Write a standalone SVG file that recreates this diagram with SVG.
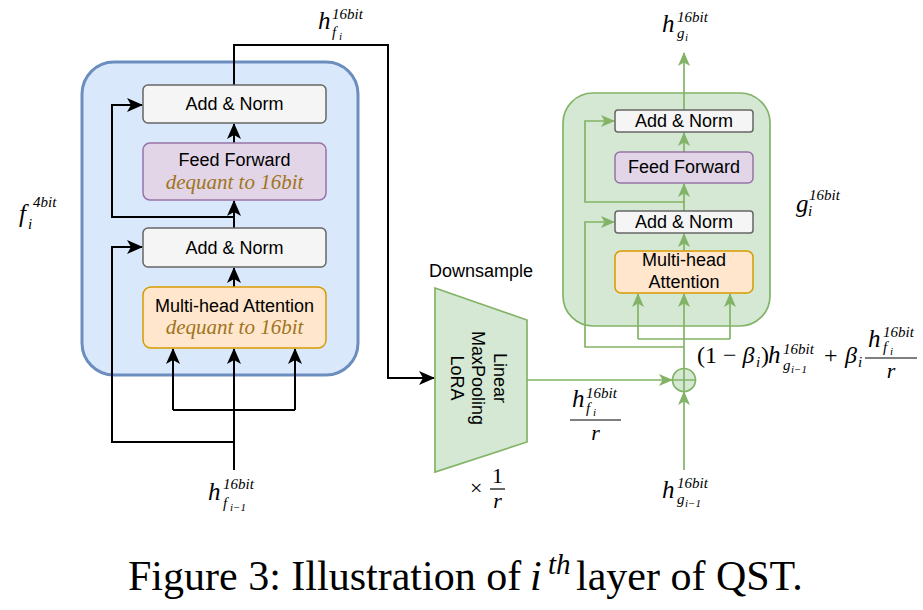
<svg xmlns="http://www.w3.org/2000/svg" width="923" height="610" viewBox="0 0 923 610">
<style>
.box{stroke-width:1.5}
.gray{fill:#f5f5f5;stroke:#666666}
.purple{fill:#e1d5e7;stroke:#9673a6}
.orange{fill:#ffe6cc;stroke:#d79b00}
.lbl{font-family:"Liberation Sans",Arial,sans-serif;font-size:18px;fill:#000;text-anchor:middle}
.deq{font-family:"Liberation Serif","Times New Roman",serif;font-style:italic;font-size:21px;fill:#a0741c;text-anchor:middle}
.m{font-family:"Liberation Serif","Times New Roman",serif;font-style:italic;fill:#000}
.mr{font-family:"Liberation Serif","Times New Roman",serif;fill:#000}
.bk{fill:none;stroke:#000;stroke-width:2}
.gr{fill:none;stroke:#82b366;stroke-width:1.7}
</style>
<defs>
<marker id="ab" viewBox="0 0 16 16" refX="15" refY="8" markerWidth="16" markerHeight="16" markerUnits="userSpaceOnUse" orient="auto">
<path d="M0,1 L16,8 L0,15 L4,8 z" fill="#000"/>
</marker>
<marker id="ag" viewBox="0 0 14 14" refX="13" refY="7" markerWidth="14" markerHeight="14" markerUnits="userSpaceOnUse" orient="auto">
<path d="M0,1 L14,7 L0,13 L3.5,7 z" fill="#82b366"/>
</marker>
</defs>

<g id="container-left">
<rect x="82" y="62" width="276" height="313" rx="32" fill="#dae8fc" stroke="#6c8ebf" stroke-width="3"/>
</g>
<g id="container-right">
<rect x="563" y="93" width="207" height="233" rx="30" fill="#d5e8d4" stroke="#82b366" stroke-width="1.7"/>
</g>

<g id="connectors">
<path class="bk" d="M234,85 V45 H388 V378 H434" marker-end="url(#ab)"/>
<path class="bk" d="M234,470 V349" marker-end="url(#ab)"/>
<path class="bk" d="M173,410 H295"/>
<path class="bk" d="M173,410 V349" marker-end="url(#ab)"/>
<path class="bk" d="M295,410 V349" marker-end="url(#ab)"/>
<path class="bk" d="M234,442 H112 V247 H142" marker-end="url(#ab)"/>
<path class="bk" d="M234,287 V268" marker-end="url(#ab)"/>
<path class="bk" d="M234,228 V201" marker-end="url(#ab)"/>
<path class="bk" d="M234,217 H112 V105 H142" marker-end="url(#ab)"/>
<path class="bk" d="M234,143 V124" marker-end="url(#ab)"/>

<path class="gr" d="M527,380 H672" marker-end="url(#ag)"/>
<path class="gr" d="M684,470 V392" marker-end="url(#ag)"/>
<path class="gr" d="M684,369 V294" marker-end="url(#ag)"/>
<path class="gr" d="M638,339 H730"/>
<path class="gr" d="M638,339 V294" marker-end="url(#ag)"/>
<path class="gr" d="M730,339 V294" marker-end="url(#ag)"/>
<path class="gr" d="M684,347 H585 V222 H614" marker-end="url(#ag)"/>
<path class="gr" d="M684,251 V234" marker-end="url(#ag)"/>
<path class="gr" d="M684,211 V184" marker-end="url(#ag)"/>
<path class="gr" d="M684,202 H585 V121 H614" marker-end="url(#ag)"/>
<path class="gr" d="M684,152 V133" marker-end="url(#ag)"/>
<path class="gr" d="M684,110 V53" marker-end="url(#ag)"/>
</g>

<g id="left-addnorm-top">
<rect class="box gray" x="143" y="85" width="183" height="38" rx="5"/>
<text class="lbl" x="234.5" y="110">Add &amp; Norm</text>
</g>
<g id="left-feedforward">
<rect class="box purple" x="143" y="143" width="183" height="57" rx="7"/>
<text class="lbl" x="234.5" y="166">Feed Forward</text>
<text class="deq" x="234.5" y="189">dequant to 16bit</text>
</g>
<g id="left-addnorm-bottom">
<rect class="box gray" x="143" y="228" width="183" height="39" rx="5"/>
<text class="lbl" x="234.5" y="254">Add &amp; Norm</text>
</g>
<g id="left-attention">
<rect class="box orange" x="143" y="287" width="183" height="61" rx="8"/>
<text class="lbl" x="234.5" y="312">Multi-head Attention</text>
<text class="deq" x="234.5" y="334">dequant to 16bit</text>
</g>

<g id="downsample">
<path d="M435,288 L527,320 L527,442 L435,472 Z" fill="#d5e8d4" stroke="#82b366" stroke-width="1.7"/>
<text class="lbl" x="481" y="277">Downsample</text>
<text class="lbl" transform="translate(494,378) rotate(90)">Linear</text>
<text class="lbl" transform="translate(472,378) rotate(90)">MaxPooling</text>
<text class="lbl" transform="translate(451,378) rotate(90)">LoRA</text>
</g>

<g id="sum">
<circle cx="684" cy="380" r="11.5" fill="#d5e8d4" stroke="#82b366" stroke-width="1.7"/>
<path d="M672.5,380 H695.5 M684,368.5 V391.5" stroke="#82b366" stroke-width="1.7" fill="none"/>
</g>

<g id="right-addnorm-top">
<rect class="box gray" x="615" y="110" width="138" height="22" rx="3"/>
<text class="lbl" x="684" y="127">Add &amp; Norm</text>
</g>
<g id="right-feedforward">
<rect class="box purple" x="615" y="152" width="138" height="31" rx="5"/>
<text class="lbl" x="684" y="173">Feed Forward</text>
</g>
<g id="right-addnorm-bottom">
<rect class="box gray" x="615" y="211" width="138" height="22" rx="3"/>
<text class="lbl" x="684" y="228">Add &amp; Norm</text>
</g>
<g id="right-attention">
<rect class="box orange" x="615" y="251" width="138" height="42" rx="6"/>
<text class="lbl" x="684" y="266">Multi-head</text>
<text class="lbl" x="684" y="288">Attention</text>
</g>

<g id="labels">
<text class="m" x="318" y="29" font-size="25">h</text>
<text class="m" x="332" y="19" font-size="15">16bit</text>
<text class="m" x="332" y="37" font-size="15">f</text>
<text class="m" x="339" y="40" font-size="11">i</text>

<text class="m" x="19" y="222" font-size="25">f</text>
<text class="m" x="33" y="207" font-size="15">4bit</text>
<text class="m" x="28" y="229" font-size="15">i</text>

<text class="m" x="208" y="500" font-size="25">h</text>
<text class="m" x="223" y="489" font-size="15">16bit</text>
<text class="m" x="223" y="508" font-size="15">f</text>
<text class="m" x="230" y="511" font-size="11">i<tspan class="mr">−1</tspan></text>

<text class="m" x="796" y="212" font-size="25">g</text>
<text class="m" x="809" y="200" font-size="15">16bit</text>
<text class="m" x="808" y="216" font-size="15">i</text>

<text class="m" x="662" y="32" font-size="25">h</text>
<text class="m" x="677" y="22" font-size="15">16bit</text>
<text class="m" x="677" y="38" font-size="15">g</text>
<text class="m" x="685" y="41" font-size="11">i</text>

<text class="m" x="662" y="498" font-size="25">h</text>
<text class="m" x="677" y="488" font-size="15">16bit</text>
<text class="m" x="677" y="504" font-size="15">g</text>
<text class="m" x="685" y="507" font-size="11">i<tspan class="mr">−1</tspan></text>

<text class="m" x="572" y="407" font-size="25">h</text>
<text class="m" x="586" y="398" font-size="15">16bit</text>
<text class="m" x="586" y="413" font-size="15">f</text>
<text class="m" x="593" y="416" font-size="11">i</text>
<line x1="570" y1="420" x2="621" y2="420" stroke="#000" stroke-width="1.2"/>
<text class="m" x="595.5" y="440" font-size="22" text-anchor="middle">r</text>

<text class="mr" x="470" y="495" font-size="22">×</text>
<text class="mr" x="497.5" y="483" font-size="22" text-anchor="middle">1</text>
<line x1="490" y1="489" x2="505" y2="489" stroke="#000" stroke-width="1.2"/>
<text class="m" x="497.5" y="508" font-size="22" text-anchor="middle">r</text>

<text class="mr" x="697" y="363" font-size="24">(1 − <tspan class="m">β</tspan></text>
<text class="m" x="756" y="367" font-size="15">i</text>
<text class="mr" x="761" y="363" font-size="24">)</text>
<text class="m" x="768" y="363" font-size="25">h</text>
<text class="m" x="783" y="354" font-size="15">16bit</text>
<text class="m" x="783" y="370" font-size="15">g</text>
<text class="m" x="791" y="373" font-size="11">i<tspan class="mr">−1</tspan></text>
<text class="mr" x="824" y="363" font-size="24">+</text>
<text class="m" x="845" y="363" font-size="24">β</text>
<text class="m" x="858" y="367" font-size="15">i</text>
<text class="m" x="868" y="347" font-size="25">h</text>
<text class="m" x="883" y="337" font-size="15">16bit</text>
<text class="m" x="883" y="352" font-size="15">f</text>
<text class="m" x="890" y="355" font-size="11">i</text>
<line x1="865" y1="358" x2="917" y2="358" stroke="#000" stroke-width="1.2"/>
<text class="m" x="891" y="378" font-size="22" text-anchor="middle">r</text>
</g>

<g id="caption">
<text class="mr" x="128" y="590" font-size="42">Figure 3: Illustration of</text>
<text class="m" x="530" y="590" font-size="42">i</text>
<text class="m" x="548" y="574" font-size="29">th</text>
<text class="mr" x="576" y="590" font-size="42">layer of QST.</text>
</g>
</svg>
